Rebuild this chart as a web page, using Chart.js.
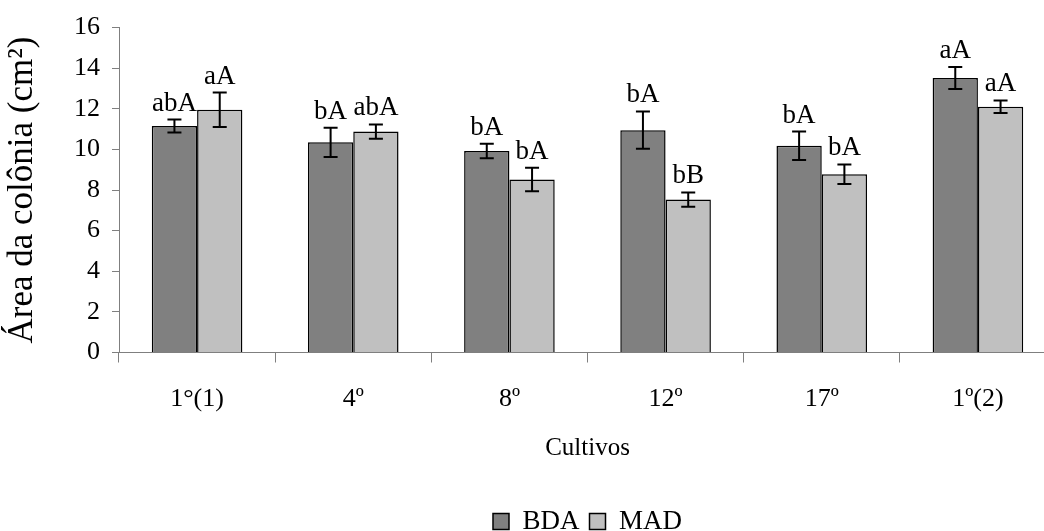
<!DOCTYPE html>
<html>
<head>
<meta charset="utf-8">
<script src="https://cdn.jsdelivr.net/npm/chart.js@4/dist/chart.umd.min.js"></script>
<style>
  html, body { margin: 0; padding: 0; background: #fff; overflow: hidden; }
  #wrap { width: 1044px; height: 531px; overflow: hidden; position: relative; }
  #box { width: 1060px; height: 545px; position: absolute; left: 0; top: 0; }
</style>
</head>
<body>
<div id="wrap"><div id="box"><canvas id="chart"></canvas></div></div>
<script>
// Colony area per culture passage, two culture media
const cultivos = ['1°(1)', '4º', '8º', '12º', '17º', '1º(2)'];
const bdaMeans = [11.15, 10.35, 9.92, 10.95, 10.18, 13.52];
const bdaErrors = [0.32, 0.72, 0.36, 0.92, 0.70, 0.54];
const madMeans = [11.95, 10.88, 8.52, 7.53, 8.78, 12.10];
const madErrors = [0.85, 0.35, 0.58, 0.35, 0.48, 0.31];
const bdaLetters = ['abA', 'bA', 'bA', 'bA', 'bA', 'aA'];
const madLetters = ['aA', 'abA', 'bA', 'bB', 'bA', 'aA'];
const yTicks = [0, 2, 4, 6, 8, 10, 12, 14, 16];

const SERIF = '"Liberation Serif", "Times New Roman", serif';
const AXIS_GRAY = '#7f7f7f';

const errors = [bdaErrors, madErrors];
const letters = [bdaLetters, madLetters];

// Error bars plus significance letters above each bar
const errorBarPlugin = {
  id: 'errorBars',
  afterDatasetsDraw(chart) {
    const ctx = chart.ctx;
    const y = chart.scales.y;
    ctx.save();
    chart.data.datasets.forEach((ds, di) => {
      const meta = chart.getDatasetMeta(di);
      meta.data.forEach((bar, i) => {
        const v = ds.data[i];
        const e = errors[di][i];
        const yTop = y.getPixelForValue(v + e);
        const yBot = y.getPixelForValue(v - e);
        const x = bar.x;
        ctx.strokeStyle = '#000';
        ctx.lineWidth = 2;
        ctx.beginPath();
        ctx.moveTo(x, yTop); ctx.lineTo(x, yBot);
        ctx.moveTo(x - 7, yTop); ctx.lineTo(x + 7, yTop);
        ctx.moveTo(x - 7, yBot); ctx.lineTo(x + 7, yBot);
        ctx.stroke();
        ctx.fillStyle = '#000';
        ctx.font = '27px ' + SERIF;
        ctx.textAlign = 'center';
        ctx.textBaseline = 'alphabetic';
        ctx.fillText(letters[di][i], x, yTop - 9);
      });
    });
    ctx.restore();
  }
};

new Chart(document.getElementById('chart'), {
  type: 'bar',
  data: {
    labels: cultivos,
    datasets: [
      { label: 'BDA', data: bdaMeans, backgroundColor: '#808080', borderColor: '#000', borderWidth: 1.5 },
      { label: 'MAD', data: madMeans, backgroundColor: '#c0c0c0', borderColor: '#000', borderWidth: 1.5 }
    ]
  },
  options: {
    responsive: true,
    maintainAspectRatio: false,
    animation: false,
    datasets: { bar: { categoryPercentage: 0.58, barPercentage: 1.0 } },
    layout: { padding: { top: 24, right: 4, left: 0, bottom: 0 } },
    plugins: {
      tooltip: { enabled: false },
      legend: {
        position: 'bottom',
        fullSize: false,
        labels: {
          color: '#000',
          font: { family: SERIF, size: 27 },
          boxWidth: 16,
          boxHeight: 16,
          padding: 10
        }
      }
    },
    scales: {
      x: {
        grid: { offset: true, drawOnChartArea: false, drawTicks: true, tickLength: 10, color: AXIS_GRAY, lineWidth: 1 },
        border: { display: true, color: AXIS_GRAY, width: 1 },
        ticks: { color: '#000', font: { family: SERIF, size: 26 }, padding: 21, maxRotation: 0 },
        title: { display: true, text: 'Cultivos', color: '#000', font: { family: SERIF, size: 25 }, padding: { top: 0, bottom: 34.5 } },
        afterFit(scale) { scale.height = 145.5; }
      },
      y: {
        min: 0,
        max: 16,
        afterBuildTicks(scale) { scale.ticks = yTicks.map(v => ({ value: v })); },
        grid: { drawOnChartArea: false, drawTicks: true, tickLength: 7, color: AXIS_GRAY, lineWidth: 1 },
        border: { display: true, color: AXIS_GRAY, width: 1 },
        ticks: { color: '#000', font: { family: SERIF, size: 26 }, padding: 12 },
        title: { display: true, text: 'Área da colônia (cm²)', color: '#000', font: { family: SERIF, size: 35 }, padding: { top: 2, bottom: 0 } },
        afterFit(scale) { scale.width = 119; }
      }
    }
  },
  plugins: [errorBarPlugin]
});
</script>
</body>
</html>
